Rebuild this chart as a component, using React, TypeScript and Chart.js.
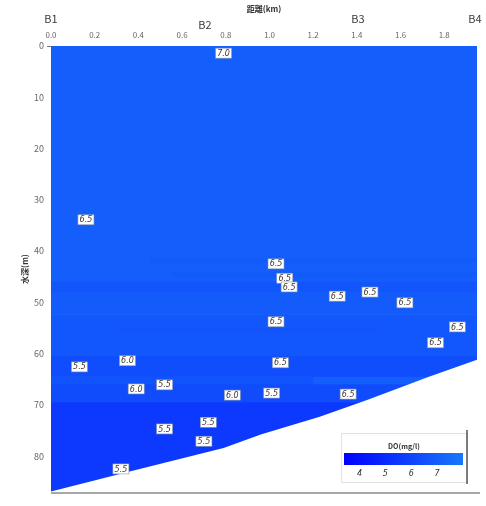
import React, { useEffect, useRef } from 'react';
import { Chart, registerables } from 'chart.js';

Chart.register(...registerables);

// ---- axis extents ----
const X_MAX = 1.95; // km
const Y_MAX = 87; // m

// ---- stations ----
const stationNames = ['B1', 'B2', 'B3', 'B4'];
const stationKm = [0, 0.705, 1.405, 1.94];

// ---- seabed profile ----
const seabedKm = [0, 0.36, 0.79, 0.96, 1.23, 1.45, 1.73, 1.95];
const seabedDepth = [86.9, 83.0, 78.4, 75.8, 72.3, 69.0, 64.5, 61.2];

// ---- DO field bands (depth range, horizontal extent, DO value) ----
const bandTop = [0, 41.5, 44.2, 46.0, 48.0, 52.5, 55.0, 60.5, 64.5, 66.0, 69.5];
const bandBottom = [87, 42.3, 45.0, 48.0, 52.0, 60.5, 56.0, 64.5, 66.0, 69.5, 87];
const bandKmStart = [0, 0.45, 0.55, 0, 0, 0, 0.3, 0, 0, 0, 0];
const bandKmEnd = [1.95, 1.95, 1.95, 1.95, 1.95, 1.95, 1.5, 1.95, 1.2, 1.95, 1.95];
const bandDO = [7.0, 6.85, 6.85, 6.65, 6.9, 6.75, 6.65, 6.35, 6.6, 6.3, 5.6];

// ---- observed DO labels ----
const labelKm = [0.79, 0.16, 1.03, 1.07, 1.09, 1.31, 1.46, 1.62, 1.03, 1.86, 1.76, 0.13, 0.35, 1.05, 0.39, 0.52, 0.83, 1.01, 1.36, 0.72, 0.52, 0.70, 0.32];
const labelDepth = [1.4, 33.9, 42.5, 45.3, 47.0, 48.8, 48.0, 50.1, 53.8, 54.8, 57.9, 62.6, 61.4, 61.8, 66.9, 66.1, 68.1, 67.7, 67.9, 73.4, 74.7, 77.1, 82.5];
const labelText = ['7.0', '6.5', '6.5', '6.5', '6.5', '6.5', '6.5', '6.5', '6.5', '6.5', '6.5', '5.5', '6.0', '6.5', '6.0', '5.5', '6.0', '5.5', '6.5', '5.5', '5.5', '5.5', '5.5'];

// ---- colour bar ----
const colorbarTicks = [4, 5, 6, 7];
const colorbarMin = 3.4;
const colorbarMax = 8.0;
const colorLow = [0, 0, 255];
const colorHigh = [25, 120, 250];

function doColor(v: number): string {
  const f = Math.max(0, Math.min(1, (v - colorbarMin) / (colorbarMax - colorbarMin)));
  const c = colorLow.map((lo, i) => Math.round(lo + (colorHigh[i] - lo) * f));
  return `rgb(${c[0]},${c[1]},${c[2]})`;
}

const FONT = '"Noto Sans CJK JP", "DejaVu Sans", sans-serif';

const labelPlugin = {
  id: 'doLabels',
  afterDatasetsDraw(chart: any) {
    const { ctx, scales } = chart;
    const x = scales.x;
    const y = scales.y;
    ctx.save();
    ctx.font = `italic 8px "DejaVu Sans", sans-serif`;
    ctx.textAlign = 'center';
    ctx.textBaseline = 'middle';
    labelText.forEach((t, i) => {
      const px = x.getPixelForValue(labelKm[i]);
      const py = y.getPixelForValue(labelDepth[i]);
      const w = 16;
      const h = 10;
      ctx.fillStyle = '#ffffff';
      ctx.fillRect(px - w / 2, py - h / 2, w, h);
      ctx.strokeStyle = '#8a97a8';
      ctx.lineWidth = 0.6;
      ctx.strokeRect(px - w / 2, py - h / 2, w, h);
      ctx.fillStyle = '#3c342e';
      ctx.fillText(t, px, py + 0.5);
    });
    ctx.restore();
  },
};

const decorPlugin = {
  id: 'decor',
  afterDraw(chart: any) {
    const { ctx, scales, chartArea } = chart;
    const x = scales.x;
    ctx.save();
    // bottom frame line
    ctx.strokeStyle = '#a8a8a8';
    ctx.lineWidth = 2;
    ctx.beginPath();
    ctx.moveTo(chartArea.left, chartArea.bottom + 1);
    ctx.lineTo(chartArea.right + 3, chartArea.bottom + 1);
    ctx.stroke();

    // station names
    ctx.font = `11px ${FONT}`;
    ctx.fillStyle = '#3a3a3a';
    ctx.textAlign = 'center';
    ctx.textBaseline = 'middle';
    stationNames.forEach((n, i) => {
      const px = x.getPixelForValue(stationKm[i]);
      ctx.fillText(n, px, n === 'B2' ? 25 : 19);
    });

    // colour bar legend
    const bx = 341, by = 433, bw = 126, bh = 49;
    ctx.fillStyle = '#ffffff';
    ctx.fillRect(bx, by, bw, bh);
    ctx.strokeStyle = '#e2e2e2';
    ctx.lineWidth = 1;
    ctx.strokeRect(bx + 0.5, by + 0.5, bw, bh);
    ctx.strokeStyle = '#555';
    ctx.lineWidth = 1.5;
    ctx.beginPath();
    ctx.moveTo(bx + bw, by - 3);
    ctx.lineTo(bx + bw, by + bh + 2);
    ctx.stroke();

    const cbL = 344, cbR = 463, cbT = 453, cbB = 465;
    const g = ctx.createLinearGradient(cbL, 0, cbR, 0);
    g.addColorStop(0, doColor(colorbarMin));
    g.addColorStop(1, doColor(colorbarMax));
    ctx.fillStyle = g;
    ctx.fillRect(cbL, cbT, cbR - cbL, cbB - cbT);

    ctx.fillStyle = '#333';
    ctx.font = `bold 7px ${FONT}`;
    ctx.fillText('DO(mg/l)', 404, 446);
    ctx.font = `italic 8px "DejaVu Sans", sans-serif`;
    colorbarTicks.forEach((v) => {
      const px = cbL + ((v - colorbarMin) / (colorbarMax - colorbarMin)) * (cbR - cbL);
      ctx.fillText(String(v), px, 474);
    });
    ctx.restore();
  },
};

export default function App() {
  const ref = useRef<HTMLCanvasElement>(null);

  useEffect(() => {
    document.body.style.margin = '0';
    const canvas = ref.current;
    if (!canvas) return;

    const bandSets = bandDO.map((v, i) => ({
      type: 'line' as const,
      data: [
        { x: bandKmStart[i], y: bandBottom[i] },
        { x: bandKmEnd[i], y: bandBottom[i] },
      ],
      borderColor: 'rgba(0,0,0,0)',
      borderWidth: 0,
      pointRadius: 0,
      backgroundColor: doColor(v),
      fill: { value: bandTop[i] },
      order: 100 - i,
    }));

    const seabed = {
      type: 'line' as const,
      data: seabedKm.map((k, i) => ({ x: k, y: seabedDepth[i] })),
      borderColor: 'rgba(0,0,0,0)',
      borderWidth: 0,
      pointRadius: 0,
      backgroundColor: '#ffffff',
      fill: { value: Y_MAX },
      order: 0,
    };

    const chart = new Chart(canvas, {
      type: 'line',
      data: { datasets: [seabed, ...bandSets] as any },
      options: {
        animation: false,
        responsive: false,
        maintainAspectRatio: false,
        layout: { padding: { left: 0, top: 0, right: 9, bottom: 14 } },
        plugins: { legend: { display: false }, tooltip: { enabled: false } },
        scales: {
          x: {
            type: 'linear',
            position: 'top',
            min: 0,
            max: X_MAX,
            ticks: {
              stepSize: 0.2,
              includeBounds: false,
              maxRotation: 0,
              padding: 6,
              color: '#666',
              font: { size: 8, family: FONT },
              callback: (v: any) => Number(v).toFixed(1),
            },
            grid: { display: false, drawTicks: false },
            border: { display: false },
            title: {
              display: true,
              text: '距離(km)',
              color: '#333',
              font: { size: 8, weight: 'bold', family: FONT },
              padding: { top: 4, bottom: 0 },
            },
            afterFit: (s: any) => {
              s.height = 46;
            },
          },
          y: {
            type: 'linear',
            reverse: true,
            min: 0,
            max: Y_MAX,
            ticks: {
              stepSize: 10,
              includeBounds: false,
              padding: 3,
              color: '#666',
              font: { size: 9, family: FONT },
            },
            grid: {
              drawOnChartArea: false,
              drawTicks: true,
              tickLength: 4,
              color: (c: any) => (c.tick && c.tick.value === 0 ? '#777' : 'rgba(0,0,0,0)'),
            },
            border: { display: true, color: '#4a5a9a', width: 1 },
            title: {
              display: true,
              text: '水深(m)',
              color: '#333',
              font: { size: 8, weight: 'bold', family: FONT },
              padding: { top: 20, bottom: 0 },
            },
            afterFit: (s: any) => {
              s.width = 51;
            },
          },
        },
      } as any,
      plugins: [labelPlugin, decorPlugin],
    });

    return () => chart.destroy();
  }, []);

  return (
    <div style={{ width: 486, height: 506 }}>
      <canvas ref={ref} width={486} height={506} style={{ width: 486, height: 506 }} />
    </div>
  );
}
